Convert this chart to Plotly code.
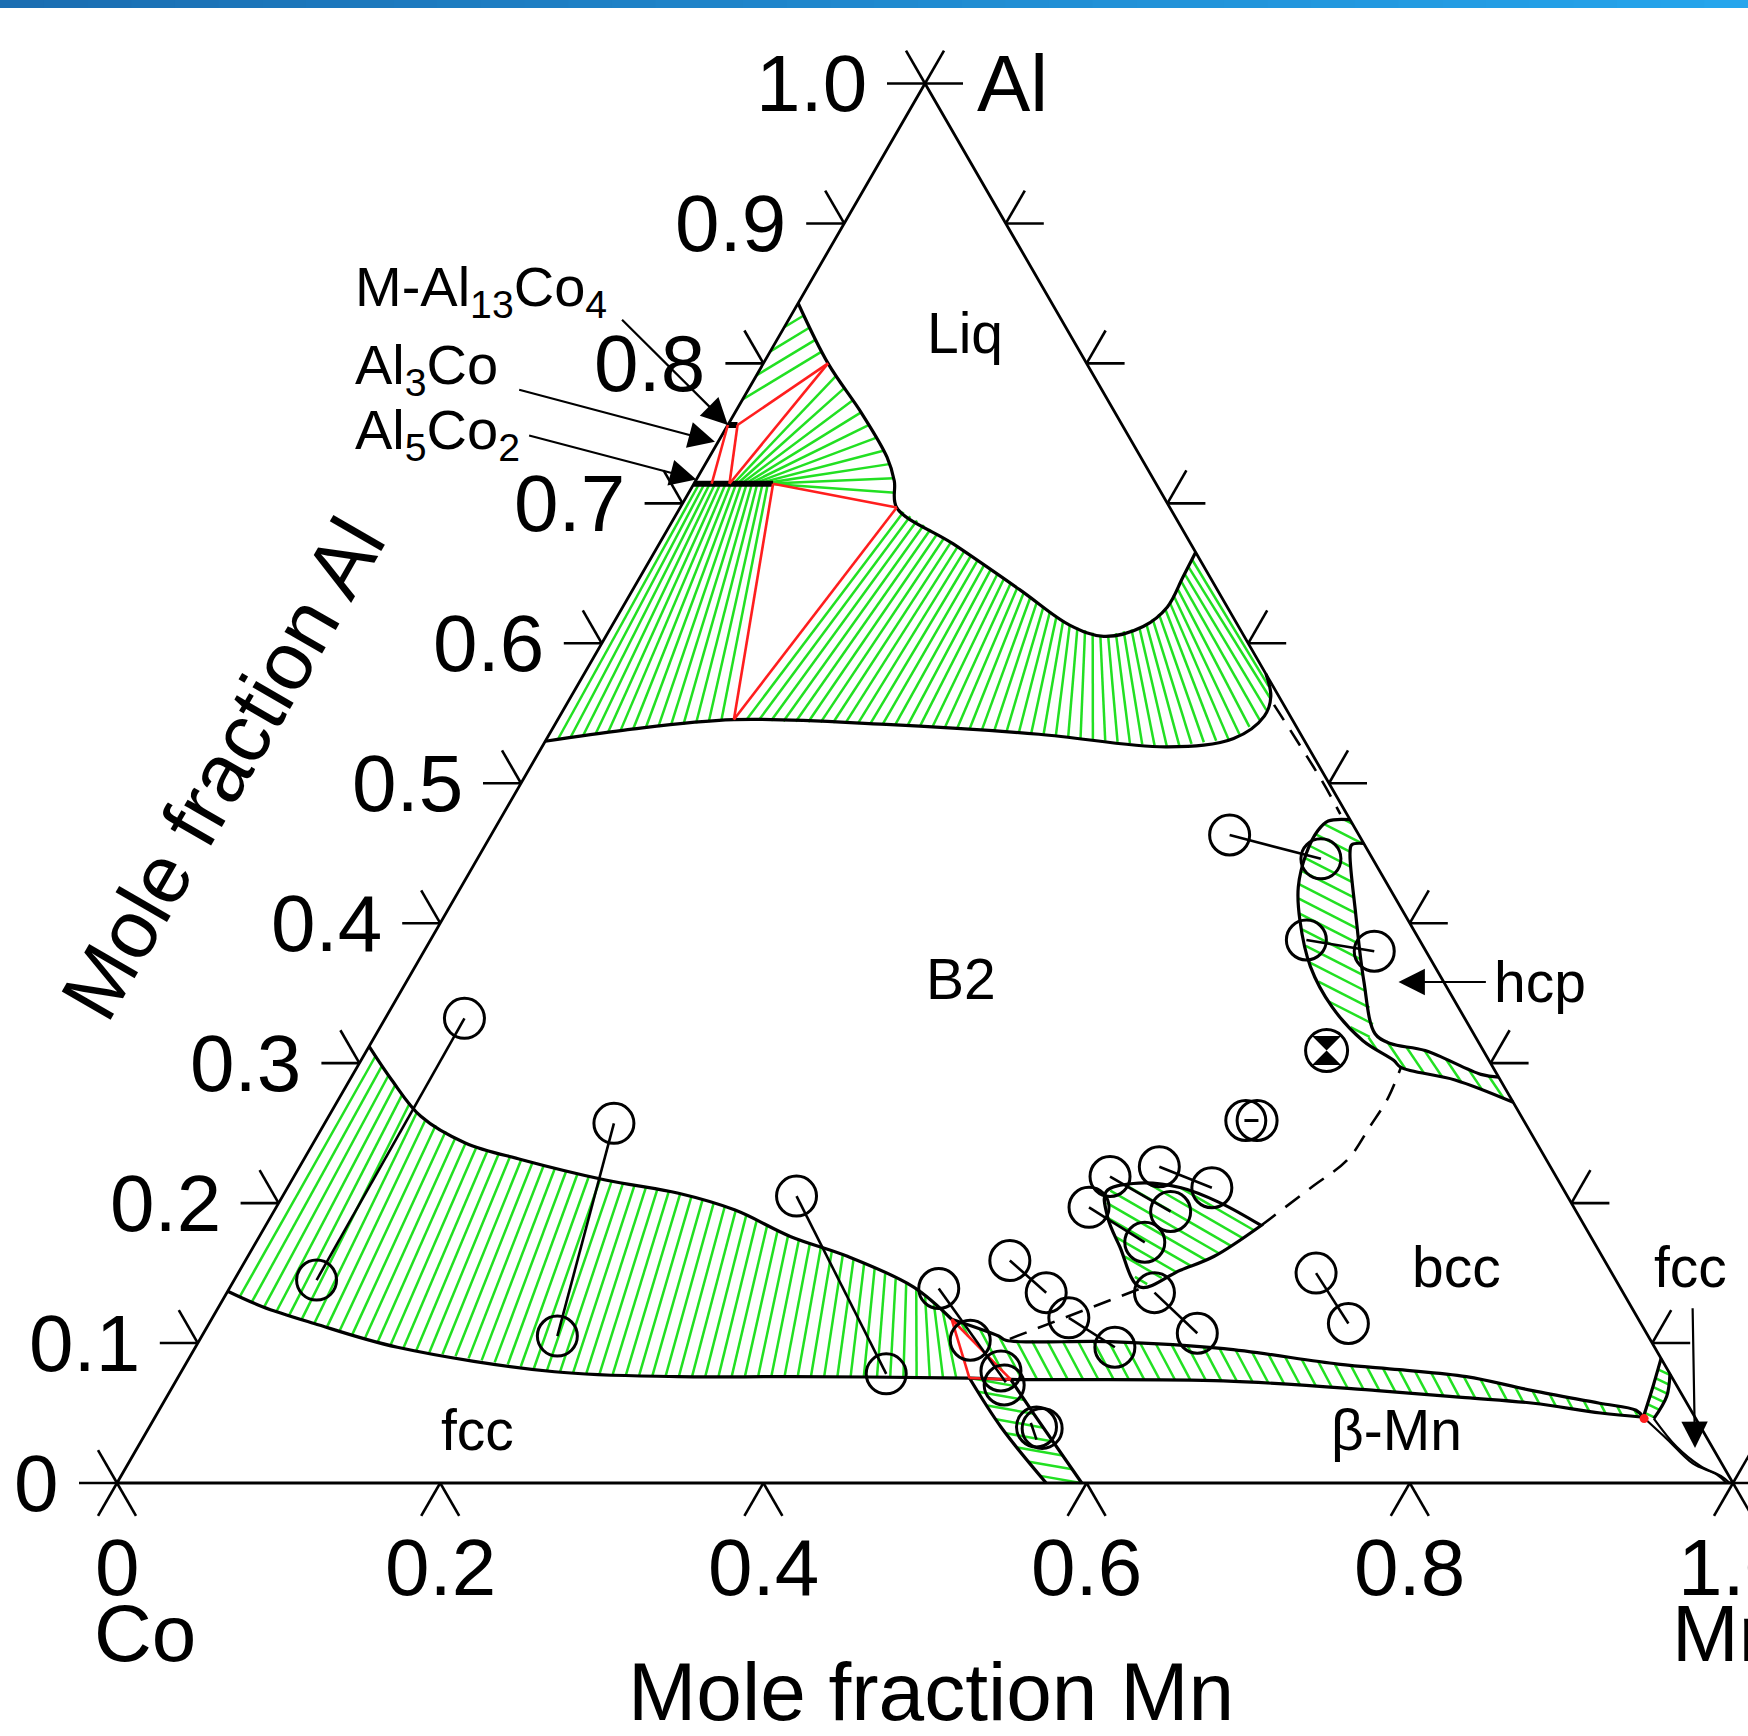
import numpy as np
import plotly.graph_objects as go

# ================= DATA : compositions (x_Mn, x_Al) =================
LIQUIDUS = [(0.000, 0.843), (0.040, 0.800), (0.079, 0.764), (0.110, 0.733), (0.123, 0.716),
            (0.134, 0.697), (0.182, 0.671), (0.240, 0.638), (0.283, 0.613), (0.308, 0.605),
            (0.329, 0.612), (0.337, 0.626), (0.336, 0.647), (0.335, 0.665)]
B2_TOP = [(0.000, 0.530), (0.045, 0.538), (0.109, 0.5455), (0.205, 0.542), (0.303, 0.535),
          (0.387, 0.526), (0.425, 0.532), (0.436, 0.548), (0.433, 0.562), (0.422, 0.578)]
AL5CO2 = [(0.000, 0.714), (0.049, 0.714)]
AL13CO4 = [(0.000, 0.756), (0.006, 0.756)]

FCC_B2_UP = [(0.000, 0.312), (0.026, 0.288), (0.057, 0.262), (0.094, 0.243), (0.135, 0.231),
             (0.194, 0.2165), (0.244, 0.207), (0.285, 0.195), (0.329, 0.176), (0.371, 0.162),
             (0.423, 0.140), (0.458, 0.117)]
FCC_B2_LO = [(0.000, 0.137), (0.027, 0.126), (0.065, 0.114), (0.125, 0.097), (0.231, 0.0795),
             (0.309, 0.076), (0.379, 0.076), (0.490, 0.075)]
BMN_UP = [(0.458, 0.117), (0.493, 0.105), (0.499, 0.102), (0.564, 0.101), (0.637, 0.096),
          (0.713, 0.085), (0.753, 0.081), (0.797, 0.076), (0.843, 0.066), (0.889, 0.057),
          (0.914, 0.052), (0.921, 0.047)]
BMN_LO = [(0.516, 0.074), (0.648, 0.073), (0.747, 0.066), (0.804, 0.061), (0.848, 0.057),
          (0.893, 0.050), (0.921, 0.047)]
DIAG_L = [(0.490, 0.075), (0.527, 0.040), (0.575, 0.000)]
DIAG_R = [(0.516, 0.074), (0.542, 0.050), (0.597, 0.000)]

SMALL_TOP = [(0.563, 0.140), (0.536, 0.169), (0.518, 0.190), (0.508, 0.208), (0.522, 0.214),
             (0.553, 0.211), (0.583, 0.200), (0.616, 0.184)]
SMALL_BOT = [(0.563, 0.140), (0.582, 0.152), (0.598, 0.162), (0.616, 0.184)]

HCP_OUT = [(0.526, 0.474), (0.513, 0.473), (0.510, 0.466), (0.511, 0.450), (0.518, 0.426),
           (0.531, 0.402), (0.554, 0.369), (0.582, 0.340), (0.613, 0.316), (0.639, 0.302),
           (0.646, 0.297), (0.684, 0.288), (0.728, 0.272)]
HCP_IN = [(0.543, 0.457), (0.536, 0.456), (0.538, 0.450), (0.563, 0.407), (0.592, 0.359),
          (0.618, 0.321), (0.631, 0.314), (0.655, 0.309), (0.698, 0.292), (0.710, 0.290)]

FCC_C_L = [(0.921, 0.047), (0.916, 0.069), (0.911, 0.089)]
FCC_C_R = [(0.928, 0.046), (0.928, 0.062), (0.922, 0.078)]
LENS_1 = [(0.921, 0.047), (0.944, 0.031), (0.968, 0.014), (0.987, 0.006), (0.996, 0.000)]
LENS_2 = [(0.928, 0.046), (0.952, 0.026), (0.974, 0.012), (0.990, 0.005), (0.998, 0.000)]
RED_DOT = [(0.922, 0.046)]

RED_LINES = [[(0.006, 0.756), (0.040, 0.800)], [(0.022, 0.714), (0.040, 0.800)],
             [(0.011, 0.714), (0.000, 0.756)], [(0.022, 0.714), (0.006, 0.756)],
             [(0.049, 0.714), (0.134, 0.697)], [(0.049, 0.714), (0.109, 0.5455)],
             [(0.134, 0.697), (0.109, 0.5455)],
             [(0.458, 0.117), (0.490, 0.075)], [(0.490, 0.075), (0.516, 0.074)],
             [(0.458, 0.117), (0.516, 0.074)]]

DASHED = [[(0.438, 0.556), (0.4945, 0.502), (0.518, 0.478)],
          [(0.616, 0.184), (0.634, 0.212), (0.646, 0.231), (0.648, 0.255), (0.649, 0.275), (0.646, 0.297)],
          [(0.501, 0.103), (0.564, 0.139)]]

# fan-type tie-line regions: (boundary A, boundary B, number of tie lines counted in the figure)
TIE_FANS = [
    ([(0.000, 0.757), (0.000, 0.843)], [(0.040, 0.800), (0.000, 0.843)], 4),
    ([(0.022, 0.714), (0.049, 0.714)], LIQUIDUS[1:6], 10),
    ([(0.000, 0.714), (0.049, 0.714)], B2_TOP[:3], 14),
    (LIQUIDUS[5:], B2_TOP[2:], 46),
    (FCC_B2_UP, FCC_B2_LO, 56),
]
# parallel tie-line regions: (region outline, tie-line angle in degrees, spacing in px)
TIE_PARALLEL = [
    (BMN_UP + BMN_LO[::-1], -62, 13.5),
    (DIAG_L + DIAG_R[::-1], -10, 12),
    (SMALL_TOP + SMALL_BOT[1:-1][::-1], -30, 12.5),
    (HCP_OUT[:9] + HCP_IN[:6][::-1], -27, 13),
    (HCP_OUT[8:] + HCP_IN[5:][::-1], -56, 13),
    (FCC_C_L + FCC_C_R[::-1], -25, 9),
]

# experimental points (open circles) and measured tie lines
EXP_POINTS = [(0.049, 0.332), (0.051, 0.145), (0.179, 0.257), (0.220, 0.105), (0.318, 0.205),
              (0.437, 0.078), (0.439, 0.139), (0.477, 0.102), (0.507, 0.080), (0.514, 0.070),
              (0.549, 0.040), (0.553, 0.039), (0.457, 0.463), (0.522, 0.446), (0.542, 0.388),
              (0.588, 0.380), (0.505, 0.219), (0.532, 0.226), (0.572, 0.211), (0.503, 0.197),
              (0.555, 0.194), (0.550, 0.172), (0.473, 0.159), (0.507, 0.136), (0.530, 0.118),
              (0.569, 0.097), (0.574, 0.136), (0.615, 0.107), (0.667, 0.150), (0.705, 0.114),
              (0.569, 0.259), (0.576, 0.259)]
EXP_TIES = [[(0.049, 0.332), (0.051, 0.145)], [(0.179, 0.257), (0.220, 0.105)],
            [(0.318, 0.205), (0.437, 0.078)], [(0.439, 0.139), (0.514, 0.072)],
            [(0.457, 0.463), (0.522, 0.446)], [(0.542, 0.388), (0.588, 0.380)],
            [(0.505, 0.219), (0.555, 0.194)], [(0.532, 0.226), (0.572, 0.211)],
            [(0.503, 0.197), (0.550, 0.172)], [(0.473, 0.159), (0.507, 0.136)],
            [(0.530, 0.118), (0.569, 0.097)], [(0.574, 0.136), (0.615, 0.107)],
            [(0.667, 0.150), (0.705, 0.114)], [(0.544, 0.043), (0.5535, 0.031)]]
SPECIAL_POINT = [(0.594, 0.309)]
DASH_MARK = [(0.5725, 0.259)]

AL_TICKS = [0.0, 0.1, 0.2, 0.3, 0.4, 0.5, 0.6, 0.7, 0.8, 0.9, 1.0]
AL_TICK_LABELS = ["0", "0.1", "0.2", "0.3", "0.4", "0.5", "0.6", "0.7", "0.8", "0.9", "1.0"]
MN_TICKS = [0.0, 0.2, 0.4, 0.6, 0.8, 1.0]
MN_TICK_LABELS = ["0", "0.2", "0.4", "0.6", "0.8", "1.0"]

PHASE_LABELS = [("Liq", 0.114, 0.822), ("B2", 0.342, 0.360), ("fcc", 0.204, 0.038),
                ("bcc", 0.752, 0.154), ("β-Mn", 0.773, 0.038), ("fcc", 0.897, 0.154)]
COMPOUND_LABELS = [("M-Al<sub>13</sub>Co<sub>4</sub>", -0.2800, 0.8524),
                   ("Al<sub>3</sub>Co", -0.2522, 0.7967),
                   ("Al<sub>5</sub>Co<sub>2</sub>", -0.2286, 0.7496)]
ARROWS = [((-0.1045, 0.8322), (0.000, 0.756)), ((-0.1428, 0.7815), (-0.002, 0.744)),
          ((-0.1203, 0.7488), (0.000, 0.717)), ((0.669, 0.358), (0.614, 0.358)),
          ((0.912, 0.126), (0.964, 0.025))]

# ================= geometry helpers =================
S3 = np.sqrt(3) / 2
W, H = 1748, 1736
SIDE = 1616.0
X_RANGE = [-117 / SIDE, (W - 117) / SIDE]
Y_RANGE = [-(H - 1483) / SIDE, 1483 / SIDE]
FONT = "Liberation Sans, Arial, Helvetica, sans-serif"
GREEN = "#22e022"
RED = "#ff1e1e"


def to_xy(pts):
    p = np.asarray(pts, float)
    return p[:, 0] + p[:, 1] / 2, p[:, 1] * S3


def txy(m, a):
    return m + a / 2, a * S3


def resample(pts, ts):
    x, y = to_xy(pts)
    d = np.concatenate([[0], np.cumsum(np.hypot(np.diff(x), np.diff(y)))])
    s = ts * d[-1]
    return np.interp(s, d, x), np.interp(s, d, y)


def fan_lines(A, B, n):
    ts = np.linspace(0, 1, n + 2)[1:-1]
    ax_, ay_ = resample(A, ts)
    bx_, by_ = resample(B, ts)
    xs, ys = [], []
    for i in range(n):
        xs += [ax_[i], bx_[i], None]
        ys += [ay_[i], by_[i], None]
    return xs, ys


def parallel_lines(poly, angle, spacing_px):
    x, y = to_xy(list(poly) + [poly[0]])
    th = np.radians(angle)
    d = np.array([np.cos(th), np.sin(th)])
    nv = np.array([-np.sin(th), np.cos(th)])
    pn = x * nv[0] + y * nv[1]
    sp = spacing_px / SIDE
    xs, ys = [], []
    for c in np.arange(pn.min() + 0.5 * sp, pn.max(), sp):
        pts = []
        for i in range(len(x) - 1):
            s0, s1 = pn[i] - c, pn[i + 1] - c
            if (s0 < 0) != (s1 < 0):
                t = s0 / (s0 - s1)
                pts.append((x[i] + t * (x[i + 1] - x[i]), y[i] + t * (y[i + 1] - y[i])))
        pts.sort(key=lambda p: p[0] * d[0] + p[1] * d[1])
        for k in range(0, len(pts) - 1, 2):
            xs += [pts[k][0], pts[k + 1][0], None]
            ys += [pts[k][1], pts[k + 1][1], None]
    return xs, ys


fig = go.Figure()


def add(x, y, color="black", width=3, dash=None, shape="linear"):
    fig.add_trace(go.Scatter(x=x, y=y, mode="lines", hoverinfo="skip",
                             line=dict(color=color, width=width, dash=dash, shape=shape)))


def segs(list_of_polys):
    xs, ys = [], []
    for p in list_of_polys:
        x, y = to_xy(p)
        xs += list(x) + [None]
        ys += list(y) + [None]
    return xs, ys


# ---- green tie-line hatching ----
hx, hy = [], []
for A, B, n in TIE_FANS:
    a_, b_ = fan_lines(A, B, n)
    hx += a_
    hy += b_
for poly, ang, sp in TIE_PARALLEL:
    a_, b_ = parallel_lines(poly, ang, sp)
    hx += a_
    hy += b_
add(hx, hy, GREEN, 2.5)

# ---- triangle frame and ticks ----
fx, fy = segs([[(0, 0), (1, 0), (0, 1), (0, 0)]])
add(fx, fy, "black", 2.8)
L = 38 / SIDE
tx, ty = [], []
for a in AL_TICKS:
    px, py = txy(0, a)
    tx += [px, px - L, None, px, px - 0.5 * L, None]
    ty += [py, py, None, py, py + S3 * L, None]
    px, py = txy(1 - a, a)
    tx += [px, px + L, None, px, px + 0.5 * L, None]
    ty += [py, py, None, py, py + S3 * L, None]
for v in MN_TICKS:
    px, py = txy(v, 0)
    tx += [px, px - 0.5 * L, None, px, px + 0.5 * L, None]
    ty += [py, py - S3 * L, None, py, py - S3 * L, None]
add(tx, ty, "black", 2.6)

# ---- phase boundaries ----
bx, by = segs([LIQUIDUS, B2_TOP, FCC_B2_UP, BMN_UP, FCC_B2_LO + BMN_LO, DIAG_L, DIAG_R,
               SMALL_TOP + SMALL_BOT[::-1], HCP_OUT, HCP_IN, FCC_C_L, FCC_C_R])
add(bx, by, "black", 3.2, shape="spline")
lx, ly = segs([LENS_1, LENS_2])
add(lx, ly, "black", 2.2, shape="spline")
cx, cy = segs([AL5CO2, AL13CO4])
add(cx, cy, "black", 6)

# ---- red three-phase triangles ----
rx, ry = segs(RED_LINES)
add(rx, ry, RED, 2.6)

# ---- dashed lines ----
dx, dy = segs(DASHED)
add(dx, dy, "black", 2.6, dash="18px,12px", shape="spline")

# ---- measured tie lines and points ----
ex, ey = segs(EXP_TIES)
add(ex, ey, "black", 2.6)
px_, py_ = to_xy(EXP_POINTS)
fig.add_trace(go.Scatter(x=px_, y=py_, mode="markers", hoverinfo="skip",
                         marker=dict(symbol="circle-open", size=40, color="black",
                                     line=dict(width=3, color="black"))))
sx, sy = to_xy(SPECIAL_POINT)
fig.add_trace(go.Scatter(x=sx, y=sy, mode="markers", hoverinfo="skip",
                         marker=dict(symbol="hourglass", size=29, color="black",
                                     line=dict(width=0))))
fig.add_trace(go.Scatter(x=sx, y=sy, mode="markers", hoverinfo="skip",
                         marker=dict(symbol="circle-open", size=42, color="black",
                                     line=dict(width=3, color="black"))))
mx, my = to_xy(DASH_MARK)
fig.add_trace(go.Scatter(x=mx, y=my, mode="markers", hoverinfo="skip",
                         marker=dict(symbol="line-ew", size=10, color="black",
                                     line=dict(width=3, color="black"))))
dotx, doty = to_xy(RED_DOT)
fig.add_trace(go.Scatter(x=dotx, y=doty, mode="markers", hoverinfo="skip",
                         marker=dict(symbol="circle", size=9, color=RED)))

# ---- annotations ----
ann = []


def text(t, m, a, size, xanchor="center", yanchor="middle", angle=0):
    x, y = txy(m, a)
    ann.append(dict(x=x, y=y, xref="x", yref="y", text=t, showarrow=False,
                    xanchor=xanchor, yanchor=yanchor, textangle=angle,
                    font=dict(family=FONT, size=size, color="black")))


OFF = 56 / SIDE
for a, lab in zip(AL_TICKS, AL_TICK_LABELS):
    x, y = txy(0, a)
    ann.append(dict(x=x - OFF, y=y, xref="x", yref="y", text=lab, showarrow=False,
                    xanchor="right", yanchor="middle",
                    font=dict(family=FONT, size=80, color="black")))
for v, lab in zip(MN_TICKS, MN_TICK_LABELS):
    ann.append(dict(x=v, y=-84 / SIDE, xref="x", yref="y", text=lab, showarrow=False,
                    xanchor="center", yanchor="middle",
                    font=dict(family=FONT, size=80, color="black")))
text("Al", 0.031, 1.0, 80, xanchor="left")
text("Co", 0.071, -0.1072, 80)
text("Mn", 1.0505, -0.1072, 80)
text("Mole fraction Mn", 0.5784, -0.1493, 82)
text("Mole fraction Al", -0.1895, 0.5102, 82, angle=-60)
for t, m, a in PHASE_LABELS:
    text(t, m, a, 57)
text("hcp", 0.7016, 0.358, 57)
for t, m, a in COMPOUND_LABELS:
    text(t, m, a, 56, xanchor="left")
for (tm, ta), (hm, ha) in ARROWS:
    x, y = txy(hm, ha)
    ax_, ay_ = txy(tm, ta)
    ann.append(dict(x=x, y=y, ax=ax_, ay=ay_, xref="x", yref="y", axref="x", ayref="y",
                    text="", showarrow=True, arrowhead=2, arrowsize=2.4, arrowwidth=2.2,
                    arrowcolor="black", standoff=0, startstandoff=0))

# ---- blue strip on top ----
shapes = []
NSEG = 40
c0, c1 = np.array([27, 110, 178]), np.array([38, 165, 236])
for i in range(NSEG):
    c = c0 + (c1 - c0) * i / (NSEG - 1)
    shapes.append(dict(type="rect", xref="paper", yref="paper", x0=i / NSEG, x1=(i + 1) / NSEG + 0.002,
                       y0=1 - 8 / H, y1=1, line=dict(width=0),
                       fillcolor="rgb(%d,%d,%d)" % tuple(c.astype(int))))

fig.update_layout(
    width=W, height=H, margin=dict(l=0, r=0, t=0, b=0),
    paper_bgcolor="white", plot_bgcolor="white", showlegend=False,
    xaxis=dict(range=X_RANGE, visible=False, fixedrange=True),
    yaxis=dict(range=Y_RANGE, visible=False, fixedrange=True),
    annotations=ann, shapes=shapes,
)

fig.write_html("out.html", config={"displayModeBar": False},
               post_script="document.body.style.margin='0';document.body.style.overflow='hidden';")
